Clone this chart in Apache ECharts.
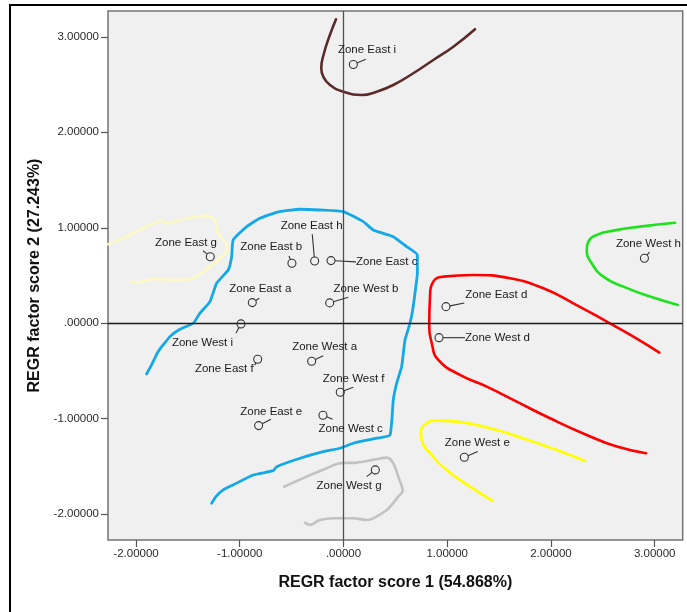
<!DOCTYPE html>
<html>
<head>
<meta charset="utf-8">
<style>
html,body{margin:0;padding:0;background:#fff;}
#c{width:687px;height:612px;}
</style>
<script src="https://cdn.jsdelivr.net/npm/echarts@6/dist/echarts.min.js"></script>
</head>
<body>
<div id="c"></div>
<script>
// ---- data ----
var pointNames = ['Zone East i','Zone East g','Zone East b','Zone East h','Zone East c','Zone East a','Zone West b','Zone West i','Zone East f','Zone West a','Zone West f','Zone East e','Zone West c','Zone West g','Zone East d','Zone West d','Zone West e','Zone West h'];
var score1 = [0.095,-1.284,-0.497,-0.278,-0.120,-0.879,-0.133,-0.988,-0.827,-0.307,-0.031,-0.818,-0.198,0.307,0.988,0.921,1.165,2.901];
var score2 = [2.710,0.697,0.628,0.652,0.656,0.216,0.213,-0.007,-0.377,-0.398,-0.723,-1.072,-0.963,-1.536,0.174,-0.151,-1.403,0.681];
var tickValues = [-2,-1,0,1,2,3];

// cluster outlines (hand-drawn in original), [score1, score2]
var curveBrown = [[-0.072,3.183],[-0.137,3.001],[-0.188,2.827],[-0.214,2.670],[-0.195,2.582],[-0.130,2.495],[-0.002,2.425],[0.176,2.391],[0.320,2.425],[0.480,2.495],[0.673,2.618],[0.866,2.757],[1.059,2.896],[1.268,3.079]];
var curvePale = [[-2.268,0.827],[-2.091,0.907],[-1.931,0.995],[-1.753,1.074],[-1.705,1.047],[-1.512,1.099],[-1.319,1.127],[-1.239,1.082],[-1.207,0.942],[-1.111,0.785],[-1.159,0.715],[-1.287,0.593],[-1.448,0.471],[-1.577,0.453],[-1.834,0.464],[-1.994,0.425],[-2.052,0.443]];
var curveBlue = [[-1.898,-0.531],[-1.850,-0.437],[-1.786,-0.297],[-1.673,-0.140],[-1.577,-0.063],[-1.448,0.000],[-1.384,0.105],[-1.287,0.226],[-1.223,0.419],[-1.111,0.558],[-1.078,0.697],[-1.063,0.872],[-0.933,1.012],[-0.805,1.099],[-0.644,1.162],[-0.419,1.194],[-0.227,1.186],[-0.002,1.169],[0.191,1.064],[0.287,0.977],[0.480,0.907],[0.609,0.802],[0.712,0.715],[0.712,0.524],[0.689,0.314],[0.667,0.139],[0.641,0.000],[0.593,-0.175],[0.561,-0.454],[0.513,-0.628],[0.480,-0.803],[0.448,-1.170],[0.320,-1.204],[0.095,-1.257],[-0.034,-1.309],[-0.195,-1.345],[-0.419,-1.414],[-0.644,-1.503],[-0.677,-1.544],[-0.870,-1.589],[-1.063,-1.693],[-1.159,-1.745],[-1.230,-1.816],[-1.271,-1.885]];
var curveGray = [[-0.571,-1.711],[-0.355,-1.606],[-0.162,-1.518],[-0.034,-1.466],[0.127,-1.460],[0.287,-1.431],[0.417,-1.407],[0.480,-1.466],[0.528,-1.606],[0.571,-1.753],[0.528,-1.816],[0.417,-1.955],[0.224,-2.060],[0.095,-2.042],[-0.098,-2.042],[-0.227,-2.060],[-0.323,-2.112],[-0.371,-2.088]];
var curveRed = [[3.045,-0.308],[2.795,-0.140],[2.538,0.017],[2.216,0.209],[1.927,0.366],[1.606,0.471],[1.252,0.506],[0.962,0.488],[0.866,0.436],[0.834,0.279],[0.827,0.000],[0.851,-0.209],[0.914,-0.384],[1.123,-0.541],[1.381,-0.664],[1.670,-0.821],[1.991,-0.995],[2.345,-1.170],[2.635,-1.292],[2.917,-1.361]];
var curveYellow = [[2.329,-1.442],[2.056,-1.327],[1.730,-1.204],[1.413,-1.099],[1.091,-1.030],[0.899,-1.020],[0.802,-1.047],[0.747,-1.135],[0.754,-1.222],[0.834,-1.361],[0.995,-1.536],[1.220,-1.711],[1.439,-1.861]];
var curveGreen = [[3.197,1.053],[2.859,1.012],[2.602,0.970],[2.442,0.925],[2.361,0.854],[2.345,0.767],[2.393,0.628],[2.505,0.488],[2.698,0.383],[2.956,0.279],[3.223,0.192]];

// ---- label layout (pixel offsets from the marker: label anchor dx,dy, align; leader end ex,ey) ----
var labelLayout = [
  [13.7,-14.3,'center',12.4,-5.3],
  [-24.3,-14,'center',-7.3,-6],
  [-20.7,-16,'center',-3,-7.3],
  [-3,-35,'center',-2.4,-26.7],
  [25,1.6,'left',25,1.3],
  [8,-13.4,'center',7,-4.4],
  [36.3,-13.7,'center',18.6,-5.7],
  [-38.5,18.7,'center',-5,9],
  [-33.4,10,'center',-3,6],
  [13,-14,'center',11.6,-5.6],
  [13.4,-13,'center',13,-5],
  [12.6,-13.7,'center',12.3,-6.4],
  [27.7,13.7,'center',9.7,4],
  [-26.3,15.7,'center',-8.6,6.7],
  [50.3,-11.4,'center',18.3,-3.7],
  [26,0,'left',26,0],
  [13,-14,'center',13.4,-5.6],
  [4,-14,'center',5,-6]
];

var FONT = '"Liberation Sans", Arial, sans-serif';

function curve(data, color, smooth, width) {
  return {
    type: 'line', data: data, smooth: smooth, showSymbol: false, symbol: 'none',
    silent: true, z: 3, animation: false,
    lineStyle: { color: color, width: width || 2.6, cap: 'round', join: 'round' }
  };
}

var pointData = pointNames.map(function (n, i) { return [score1[i], score2[i], n]; });

var chart = echarts.init(document.getElementById('c'), null, { renderer: 'canvas' });
chart.setOption({
  animation: false,
  backgroundColor: '#ffffff',
  grid: {
    left: 108, top: 11, right: 4.3, bottom: 72,
    show: true, backgroundColor: '#f0f0f0', borderColor: '#737373', borderWidth: 1.5
  },
  xAxis: {
    type: 'value', min: -2.27, max: 3.27,
    name: 'REGR factor score 1 (54.868%)', nameLocation: 'middle', nameGap: 35,
    nameTextStyle: { fontFamily: FONT, fontWeight: 'bold', fontSize: 16, color: '#111' },
    axisLine: { show: false, onZero: false },
    axisTick: { show: true, length: 7, customValues: tickValues, lineStyle: { color: '#555', width: 1.2 } },
    axisLabel: {
      customValues: tickValues, margin: 8, fontFamily: FONT, fontSize: 11.5, color: '#2a2a2a',
      formatter: function (v) { return v === 0 ? '.00000' : v.toFixed(5); }
    },
    splitLine: { show: false }
  },
  yAxis: {
    type: 'value', min: -2.27, max: 3.27,
    name: 'REGR factor score 2 (27.243%)', nameLocation: 'middle', nameGap: 60, nameRotate: 90,
    nameTextStyle: { fontFamily: FONT, fontWeight: 'bold', fontSize: 16, color: '#111' },
    axisLine: { show: false, onZero: false },
    axisTick: { show: true, length: 7, customValues: tickValues, lineStyle: { color: '#555', width: 1.2 } },
    axisLabel: {
      customValues: tickValues, margin: 9, fontFamily: FONT, fontSize: 11.5, color: '#2a2a2a',
      formatter: function (v) { return v === 0 ? '.00000' : v.toFixed(5); }
    },
    splitLine: { show: false }
  },
  graphic: [
    { type: 'line', shape: { x1: 10, y1: 5, x2: 687, y2: 5 }, style: { stroke: '#000', lineWidth: 2 }, z: 100 },
    { type: 'line', shape: { x1: 10, y1: 4, x2: 10, y2: 612 }, style: { stroke: '#000', lineWidth: 2 }, z: 100 }
  ],
  series: [
    {
      type: 'line', data: [], silent: true, z: 2,
      markLine: {
        silent: true, symbol: ['none', 'none'], label: { show: false }, animation: false,
        data: [
          { xAxis: 0, lineStyle: { color: '#505050', width: 1.3, type: 'solid' } },
          { yAxis: 0, lineStyle: { color: '#1a1a1a', width: 1.3, type: 'solid' } }
        ]
      }
    },
    curve(curveBrown, '#5b2b2b', 0.5, 2.6),
    curve(curvePale, '#fdf9c4', 0.2, 2.6),
    curve(curveBlue, '#14a9e6', 0.15, 2.8),
    curve(curveGray, '#c2c2c2', 0.3, 2.6),
    curve(curveRed, '#ff0000', 0.5, 2.6),
    curve(curveYellow, '#ffff00', 0.5, 2.6),
    curve(curveGreen, '#1de21d', 0.5, 2.6),
    {
      type: 'custom', data: pointData, z: 10, silent: true, clip: false,
      renderItem: function (params, api) {
        var i = params.dataIndex;
        var p = api.coord([api.value(0), api.value(1)]);
        var L = labelLayout[i];
        var r = 4;
        var children = [];
        var ex = L[3], ey = L[4];
        var len = Math.sqrt(ex * ex + ey * ey);
        if (len > r + 0.5) {
          children.push({
            type: 'line',
            shape: { x1: p[0] + ex / len * r, y1: p[1] + ey / len * r, x2: p[0] + ex, y2: p[1] + ey },
            style: { stroke: '#333', lineWidth: 1.1 }
          });
        }
        children.push({
          type: 'circle', shape: { cx: p[0], cy: p[1], r: r },
          style: { fill: 'none', stroke: '#333', lineWidth: 1.1 }
        });
        children.push({
          type: 'text',
          style: {
            x: p[0] + L[0], y: p[1] + L[1], text: pointNames[i],
            align: L[2], verticalAlign: 'middle',
            font: '11.5px ' + FONT, fill: '#1a1a1a'
          }
        });
        return { type: 'group', children: children };
      }
    }
  ]
});
</script>
</body>
</html>
